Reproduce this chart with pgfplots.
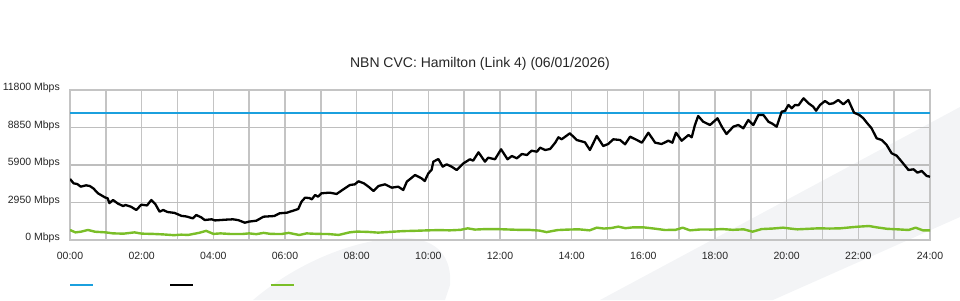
\documentclass[border=0pt]{standalone}
\usepackage{fontspec}
\setmainfont{Liberation Sans}
\usepackage{pgfplots}
\pgfplotsset{compat=1.18}
\definecolor{cvcblue}{RGB}{27,160,222}
\definecolor{cvcgreen}{RGB}{122,190,40}
\definecolor{gridc}{RGB}{196,196,196}
\definecolor{gridh}{RGB}{190,190,190}
\definecolor{bgshape}{RGB}{243,244,246}
\begin{document}
\begin{tikzpicture}[x=1bp,y=1bp]
\useasboundingbox (0,0) rectangle (960,300);
\fill[bgshape] (600,0) -- (960,193) -- (960,83) -- (773,0) -- cycle;
\fill[bgshape] (253,0) .. controls (300,40) and (360,62) .. (403,62) .. controls (440,62) and (452,40) .. (450,15) -- (445,0) -- cycle;
\begin{axis}[
  at={(70bp,60bp)}, anchor=south west,
  scale only axis, width=860bp, height=150bp,
  xmin=0, xmax=24, ymin=0, ymax=11800,
  scaled y ticks=false,
  xtick={0,2,...,24},
  minor xtick={1,3,...,23},
  xticklabels={00:00,02:00,04:00,06:00,08:00,10:00,12:00,14:00,16:00,18:00,20:00,22:00,24:00},
  ytick={0,2950,5900,8850,11800},
  yticklabels={0 Mbps,2950 Mbps,5900 Mbps,8850 Mbps,11800 Mbps},
  major tick length=0pt, minor tick length=0pt,
  xmajorgrids, xminorgrids, ymajorgrids,
  major x grid style={gridc, line width=1.5bp},
  minor x grid style={gridc, line width=1.5bp},
  major y grid style={gridh, line width=1.8bp},
  axis line style={gridc, line width=1.5bp},
  xticklabel style={font=\fontsize{10.5bp}{12bp}\selectfont, text=black!85, anchor=north, inner sep=0pt, yshift=-12bp},
  yticklabel style={font=\fontsize{10.5bp}{12bp}\selectfont, text=black!85, anchor=east, inner sep=0pt, xshift=-10bp, yshift=2bp},
  title={NBN CVC: Hamilton (Link 4) (06/01/2026)},
  title style={font=\fontsize{14bp}{16bp}\selectfont, text=black!85, at={(0.5,1)}, anchor=center, xshift=-20bp, yshift=20bp},
  legend style={at={(-0.0012,-0.3)}, anchor=west, draw=none, fill=none, inner sep=0pt, outer sep=0pt, legend columns=3, nodes={inner sep=0pt}, /tikz/every even column/.append style={column sep=74bp}},
  legend image code/.code={\draw[#1] (0bp,0bp) -- (23bp,0bp);},
  every axis plot/.append style={line join=round},
]
\addplot[cvcblue, line width=2.2bp] coordinates {(0,10000) (24,10000)};
\addlegendentry{\mbox{}}
\addplot[black, line width=2.3bp] coordinates {
(0.00,4800) (0.10,4460) (0.20,4405) (0.30,4195) (0.45,4300) (0.55,4250) (0.65,4065)
(0.78,3675) (0.97,3360) (1.05,3280) (1.10,2900) (1.20,3147) (1.34,2860) (1.48,2675)
(1.55,2753) (1.70,2620) (1.85,2360) (1.99,2780) (2.15,2720) (2.27,3147) (2.38,2832)
(2.50,2227) (2.60,2360) (2.72,2203) (2.92,2130) (3.11,1900) (3.25,1850) (3.43,1700)
(3.52,1967) (3.66,1786) (3.76,1573) (3.95,1628) (4.05,1540) (4.35,1600) (4.55,1628)
(4.70,1560) (4.88,1360) (5.00,1450) (5.20,1518) (5.40,1833) (5.70,1888) (5.85,2100)
(6.05,2148) (6.22,2300) (6.37,2439) (6.46,3013) (6.56,3330) (6.68,3300) (6.75,3200)
(6.84,3540) (6.92,3410) (7.02,3675) (7.25,3725) (7.44,3620) (7.63,3990) (7.81,4327)
(7.95,4380) (8.05,4620) (8.20,4460) (8.33,4195) (8.47,3855) (8.61,4248) (8.79,4380)
(8.98,4117) (9.16,4195) (9.30,3933) (9.40,4590) (9.63,5114) (9.81,4852) (9.90,4640)
(10.00,5245) (10.09,5507) (10.14,6162) (10.28,6370) (10.40,5770) (10.51,5953) (10.65,5770)
(10.79,5507) (10.98,6030) (11.16,6350) (11.25,6240) (11.40,6900) (11.58,6162) (11.67,6475)
(11.86,6350) (12.03,7135) (12.21,6350) (12.33,6608) (12.47,6427) (12.61,6765) (12.75,6687)
(12.88,7025) (13.03,6947) (13.12,7261) (13.26,7080) (13.40,7160) (13.54,7654) (13.63,8080)
(13.72,7922) (13.95,8394) (14.14,7867) (14.37,7686) (14.51,7080) (14.70,8182) (14.88,7395)
(15.02,7552) (15.16,7922) (15.35,7867) (15.49,7529) (15.63,8127) (15.82,7867) (15.96,7654)
(16.14,8441) (16.33,7654) (16.51,7552) (16.70,7812) (16.81,7654) (16.91,8441) (17.07,7812)
(17.26,8260) (17.35,8080) (17.44,9047) (17.53,9755) (17.67,9307) (17.86,9047) (18.07,9574)
(18.19,8913) (18.32,8339) (18.51,8913) (18.65,9047) (18.79,8787) (18.93,9440) (19.07,9047)
(19.21,9834) (19.35,9834) (19.49,9307) (19.60,9150) (19.72,8913) (19.86,10094) (19.95,10150)
(20.05,10620) (20.14,10360) (20.23,10620) (20.33,10600) (20.47,11147) (20.61,10754) (20.74,10487)
(20.82,10172) (20.93,10620) (21.07,10935) (21.19,10700) (21.30,10754) (21.44,11013) (21.58,10675)
(21.72,11013) (21.88,10015) (22.03,9834) (22.14,9574) (22.25,9180) (22.37,8787) (22.51,8000)
(22.65,7867) (22.79,7473) (22.93,6820) (23.07,6630) (23.21,6162) (23.40,5507) (23.54,5560)
(23.65,5297) (23.77,5430) (23.91,5035) (24.00,4980)
};
\addlegendentry{\mbox{}}
\addplot[cvcgreen, line width=2.4bp] coordinates {
(0.00,787) (0.15,600) (0.30,650) (0.50,790) (0.70,650) (1.00,600) (1.20,520) (1.50,500)
(1.80,600) (2.00,500) (2.30,480) (2.60,440) (2.90,380) (3.10,420) (3.30,400) (3.60,560)
(3.80,720) (4.00,480) (4.20,520) (4.50,470) (4.80,470) (5.00,520) (5.20,460) (5.40,560)
(5.60,480) (5.90,470) (6.10,560) (6.40,393) (6.60,520) (6.90,480) (7.20,470) (7.50,400)
(7.80,600) (8.00,660) (8.30,640) (8.60,580) (9.00,650) (9.30,700) (9.60,720) (10.00,760)
(10.30,780) (10.60,760) (10.90,800) (11.10,917) (11.30,820) (11.60,860) (11.90,860) (12.20,830)
(12.50,800) (12.80,800) (13.10,740) (13.30,620) (13.60,780) (13.90,820) (14.20,840) (14.50,760)
(14.70,970) (14.90,900) (15.10,940) (15.30,1049) (15.50,930) (15.70,990) (16.00,996) (16.30,900)
(16.60,787) (16.90,800) (17.10,970) (17.30,760) (17.60,830) (17.90,820) (18.20,860) (18.50,800)
(18.80,840) (19.05,655) (19.30,860) (19.60,900) (19.90,970) (20.10,900) (20.30,839) (20.60,880)
(20.90,920) (21.20,900) (21.50,920) (21.80,1000) (22.00,1049) (22.30,1100) (22.50,1000) (22.80,880)
(23.10,839) (23.40,787) (23.60,970) (23.80,760) (24.00,760)
};
\addlegendentry{\mbox{}}
\end{axis}
\end{tikzpicture}
\end{document}
